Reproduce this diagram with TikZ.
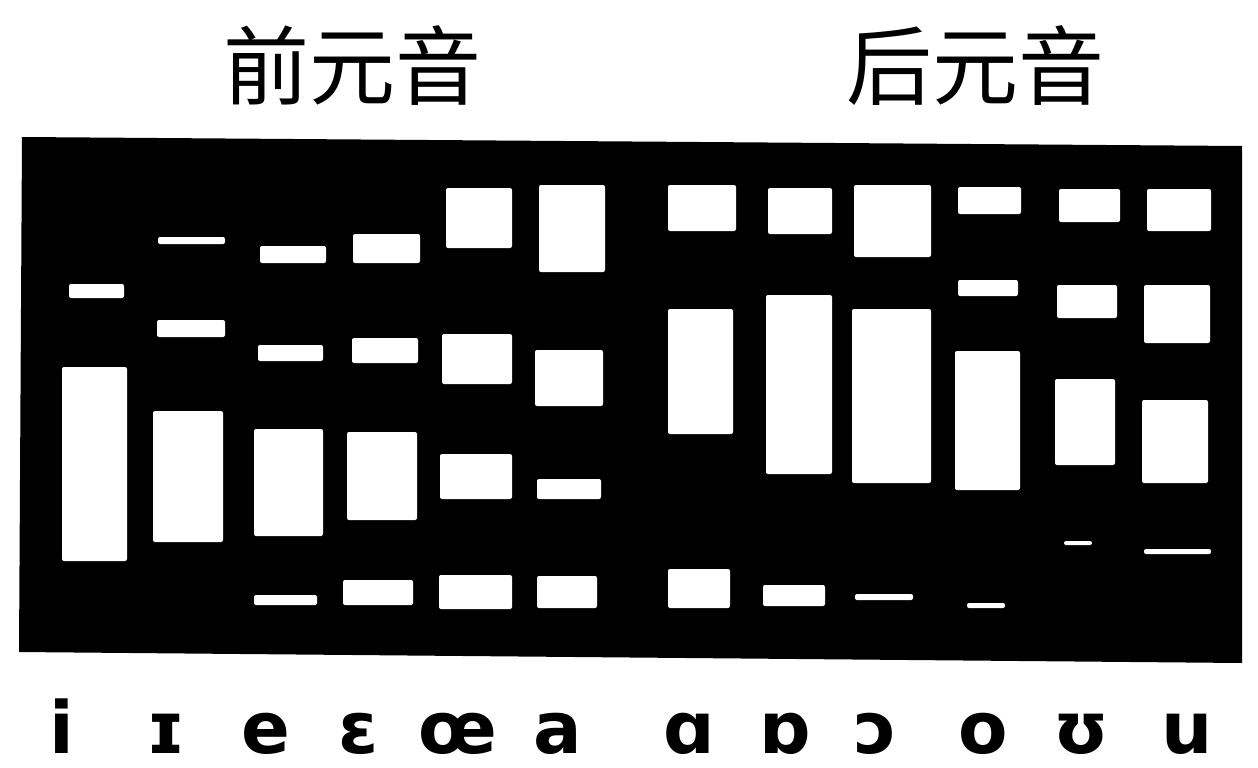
\documentclass[tikz,border=0pt]{standalone}
\usepackage{fontspec}
\newfontfamily\cjk{Noto Sans CJK SC}
\newfontfamily\ipa{DejaVu Sans}
\tikzset{
  board/.style={fill=black},
  bar/.style={fill=white, rounded corners=2pt},
  title/.style={font=\cjk\fontsize{86}{90}\selectfont, anchor=base, inner sep=0pt},
  vowel/.style={font=\ipa\bfseries\fontsize{72}{76}\selectfont, anchor=base, inner sep=0pt, text depth=0pt}
}
\newcommand{\wbar}[4]{\fill[bar] (#1,#2) rectangle (#3,#4);}
\begin{document}
\begin{tikzpicture}[x=1pt,y=-1pt]
\useasboundingbox (0,0) rectangle (1258,768);
% titles
\node[title] (front) at (352,98) {前元音};
\node[title] (back) at (975,98) {后元音};
% black board
\fill[board] (22,137) -- (1242,146) -- (1242,663) -- (19,652) -- cycle;
% i
\wbar{69}{284}{124}{298}
\wbar{62}{367}{127}{561}
% I
\wbar{158}{237}{225}{244}
\wbar{157}{320}{225}{337}
\wbar{153}{411}{223}{542}
% e
\wbar{260}{246}{326}{263}
\wbar{258}{345}{323}{361}
\wbar{254}{429}{323}{536}
\wbar{254}{595}{317}{605}
% epsilon
\wbar{353}{234}{420}{263}
\wbar{352}{338}{418}{363}
\wbar{347}{432}{417}{520}
\wbar{343}{580}{413}{605}
% oe
\wbar{446}{188}{512}{248}
\wbar{442}{334}{512}{384}
\wbar{440}{454}{512}{499}
\wbar{439}{575}{512}{609}
% a
\wbar{539}{185}{605}{272}
\wbar{535}{350}{603}{406}
\wbar{537}{479}{601}{499}
\wbar{537}{576}{597}{608}
% script a
\wbar{668}{185}{736}{231}
\wbar{668}{309}{733}{434}
\wbar{668}{569}{730}{608}
% turned script a
\wbar{768}{188}{832}{234}
\wbar{766}{295}{832}{474}
\wbar{763}{585}{825}{606}
% open o
\wbar{854}{185}{931}{257}
\wbar{852}{309}{931}{483}
\wbar{855}{594}{913}{600}
% o
\wbar{958}{187}{1021}{214}
\wbar{958}{280}{1018}{296}
\wbar{955}{351}{1020}{490}
\wbar{967}{603}{1005}{608}
% upsilon
\wbar{1059}{189}{1120}{222}
\wbar{1057}{285}{1117}{318}
\wbar{1055}{379}{1115}{465}
\wbar{1064}{541}{1092}{545}
% u
\wbar{1147}{189}{1211}{231}
\wbar{1144}{285}{1210}{343}
\wbar{1142}{400}{1208}{483}
\wbar{1144}{549}{1211}{554}
% vowel labels
\node[vowel] (v1) at (62,753) {i};
\node[vowel] (v2) at (166,753) {ɪ};
\node[vowel] (v3) at (266,753) {e};
\node[vowel] (v4) at (359,753) {ɛ};
\node[vowel] (v5) at (458,753) {œ};
\node[vowel] (v6) at (558,753) {a};
\node[vowel] (v7) at (689,753) {ɑ};
\node[vowel] (v8) at (785,753) {ɒ};
\node[vowel] (v9) at (876,753) {ɔ};
\node[vowel] (v10) at (983,753) {o};
\node[vowel] (v11) at (1081,753) {ʊ};
\node[vowel] (v12) at (1187,753) {u};
\end{tikzpicture}
\end{document}
